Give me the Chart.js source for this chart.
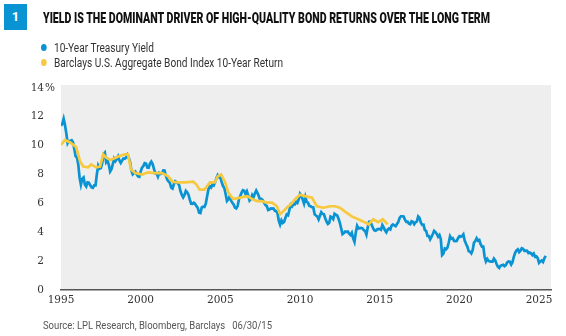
<!DOCTYPE html>
<html>
<head>
<meta charset="utf-8">
<script src="https://cdn.jsdelivr.net/npm/chart.js@4"></script>
<style>
  body { margin: 0; width: 566px; height: 336px; background: #fff; position: relative; overflow: hidden; font-family: Roboto, "DejaVu Sans", sans-serif; }
  #chart { position: absolute; left: 0; top: 0; }
  .badge { position: absolute; left: 4px; top: 4px; width: 23px; height: 26px; background: #0a93d3; color: #fff; font: bold 13px Roboto, sans-serif; text-align: center; line-height: 26px; }
  .fit { position: absolute; white-space: nowrap; transform-origin: 0 50%; }
  .title { left: 43px; top: 9px; font-weight: 900; font-size: 15px; color: #111; }
  .legend { left: 41px; font-size: 12.5px; color: #333; }
  .legend i { display: inline-block; width: 7px; height: 7px; border-radius: 50%; margin-right: 9px; vertical-align: 1px; }
  .source { left: 43px; top: 318px; font-size: 11.5px; color: #555; }
</style>
</head>
<body>
<canvas id="chart" width="566" height="336"></canvas>
<div class="badge">1</div>
<div class="fit title" data-w="447">YIELD IS THE DOMINANT DRIVER OF HIGH-QUALITY BOND RETURNS OVER THE LONG TERM</div>
<div class="fit legend" style="top:40px" data-w="113"><i style="background:#0a93d3"></i>10-Year Treasury Yield</div>
<div class="fit legend" style="top:55px" data-w="242"><i style="background:#f6c93e"></i>Barclays U.S. Aggregate Bond Index 10-Year Return</div>
<div class="fit source" data-w="229">Source: LPL Research, Bloomberg, Barclays&nbsp;&nbsp;&nbsp;06/30/15</div>
<script>
// 10-year treasury yield, monthly, plotted 10 years forward (starts at 1995)
const yieldStart = 1995;
const treasuryYield = [
  11.38, 11.51, 11.86, 11.43, 10.85, 10.16, 10.31, 10.33, 10.37, 10.24, 9.78, 9.26,
  9.19, 8.70, 7.78, 7.30, 7.71, 7.80, 7.30, 7.17, 7.45, 7.43, 7.25, 7.11,
  7.08, 7.25, 7.25, 8.02, 8.61, 8.40, 8.45, 8.76, 9.42, 9.52, 8.86, 8.99,
  8.67, 8.21, 8.37, 8.72, 9.09, 8.92, 9.06, 9.26, 8.98, 8.80, 8.96, 9.11,
  9.09, 9.17, 9.36, 9.18, 8.86, 8.28, 8.02, 8.11, 8.19, 8.01, 7.87, 7.84,
  8.21, 8.47, 8.59, 8.79, 8.76, 8.48, 8.47, 8.75, 8.89, 8.72, 8.39, 8.08,
  8.09, 7.85, 8.11, 8.04, 8.07, 8.28, 8.27, 7.90, 7.65, 7.53, 7.42, 7.09,
  7.03, 7.34, 7.54, 7.48, 7.39, 7.26, 6.84, 6.59, 6.42, 6.59, 6.87, 6.77,
  6.60, 6.26, 5.98, 5.97, 6.04, 5.96, 5.81, 5.68, 5.36, 5.33, 5.72, 5.77,
  5.75, 5.97, 6.48, 6.97, 7.18, 7.10, 7.30, 7.24, 7.46, 7.74, 7.96, 7.81,
  7.78, 7.47, 7.20, 7.06, 6.63, 6.17, 6.28, 6.49, 6.20, 6.04, 5.93, 5.71,
  5.65, 5.81, 6.27, 6.51, 6.74, 6.91, 6.87, 6.64, 6.83, 6.53, 6.20, 6.30,
  6.58, 6.42, 6.69, 6.89, 6.71, 6.49, 6.22, 6.30, 6.21, 6.03, 5.88, 5.81,
  5.54, 5.57, 5.65, 5.64, 5.65, 5.50, 5.46, 5.34, 4.81, 4.53, 4.83, 4.65,
  4.72, 5.00, 5.23, 5.18, 5.54, 5.90, 5.79, 5.94, 5.92, 6.11, 6.03, 6.28,
  6.66, 6.52, 6.26, 5.99, 6.44, 6.10, 6.05, 5.83, 5.80, 5.74, 5.72, 5.24,
  5.16, 5.10, 4.89, 5.14, 5.39, 5.28, 5.24, 4.97, 4.73, 4.57, 4.65, 5.09,
  5.04, 4.91, 5.28, 5.21, 5.16, 4.93, 4.65, 4.26, 3.87, 3.94, 4.05, 4.03,
  4.05, 3.90, 3.81, 3.96, 3.57, 3.33, 3.98, 4.45, 4.27, 4.29, 4.30, 4.27,
  4.15, 4.08, 3.83, 4.35, 4.72, 4.73, 4.50, 4.28, 4.13, 4.10, 4.19, 4.23,
  4.22, 4.17, 4.50, 4.34, 4.14, 4.00, 4.18, 4.26, 4.20, 4.46, 4.54, 4.47,
  4.42, 4.57, 4.72, 4.99, 5.11, 5.11, 5.09, 4.88, 4.72, 4.73, 4.60, 4.56,
  4.76, 4.72, 4.56, 4.69, 4.75, 5.10, 5.00, 4.67, 4.52, 4.53, 4.15, 4.10,
  3.74, 3.74, 3.51, 3.68, 3.88, 4.10, 4.01, 3.89, 3.69, 3.81, 3.53, 2.42,
  2.52, 2.87, 2.82, 2.93, 3.29, 3.72, 3.56, 3.59, 3.40, 3.39, 3.40, 3.59,
  3.73, 3.69, 3.73, 3.85, 3.42, 3.20, 3.01, 2.70, 2.65, 2.54, 2.76, 3.29,
  3.39, 3.58, 3.41, 3.46, 3.17, 3.00, 3.00, 2.30, 1.98, 2.15, 2.01, 1.98,
  1.97, 1.97, 2.17, 2.05, 1.80, 1.62, 1.53, 1.68, 1.72, 1.75, 1.65, 1.72,
  1.91, 1.98, 1.96, 1.76, 1.93, 2.30, 2.58, 2.74, 2.81, 2.62, 2.72, 2.90,
  2.86, 2.71, 2.72, 2.71, 2.56, 2.60, 2.54, 2.42, 2.53, 2.30, 2.33, 2.21,
  1.88, 1.98, 2.04, 1.94, 2.20, 2.36
];

// Barclays Agg trailing 10-year annualized return
const aggYears = [
  1995.0, 1995.25, 1995.6, 1995.95, 1996.2, 1996.4, 1996.7, 1996.9, 1997.2, 1997.45,
  1997.65, 1997.8, 1998.1, 1998.6, 1999.0, 1999.2, 1999.4, 1999.65, 2000.1, 2000.45,
  2000.9, 2001.35, 2001.7, 2002.0, 2002.35, 2002.8, 2003.3, 2003.5, 2003.7, 2004.0,
  2004.35, 2004.65, 2004.85, 2005.05, 2005.3, 2005.5, 2005.8, 2006.25, 2006.7, 2007.0,
  2007.3, 2007.6, 2007.9, 2008.25, 2008.55, 2008.75, 2008.95, 2009.25, 2009.4, 2009.7,
  2010.0, 2010.3, 2010.75, 2011.05, 2011.45, 2011.9, 2012.2, 2012.5, 2012.8, 2013.25,
  2013.65, 2013.95, 2014.3, 2014.6, 2014.9, 2015.2, 2015.5
];
const aggReturn = [
  10.05, 10.4, 10.2, 9.9, 8.9, 8.55, 8.5, 8.7, 8.5, 8.55,
  9.4, 9.2, 9.0, 9.25, 9.4, 9.4, 8.35, 8.1, 8.0, 8.15,
  8.1, 8.1, 7.9, 7.5, 7.45, 7.45, 7.5, 7.3, 6.95, 6.95,
  7.45, 7.45, 7.9, 8.0, 7.45, 6.75, 6.3, 6.4, 6.5, 6.3,
  6.15, 6.15, 6.05, 6.05, 5.8, 5.25, 5.45, 5.8, 5.9, 6.3,
  6.6, 6.5, 6.4, 5.8, 5.7, 5.8, 5.8, 5.7, 5.45, 5.1,
  4.9, 4.75, 4.55, 4.9, 4.7, 4.9, 4.55
];

const xTicks = [1995, 2000, 2005, 2010, 2015, 2020, 2025];
const yTicks = [0, 2, 4, 6, 8, 10, 12, 14];

const BLUE = '#0a93d3';
const YELLOW = '#f6c93e';

// squeeze header/legend/source text to the condensed widths of the original
document.querySelectorAll('.fit').forEach(el => {
    const w = el.getBoundingClientRect().width;
    el.style.transform = 'scaleX(' + (Number(el.dataset.w) / w) + ')';
});

const plotBackground = {
    id: 'plotBackground',
    beforeDraw(chart) {
        const { ctx, chartArea: a } = chart;
        ctx.save();
        ctx.fillStyle = '#eeeeef';
        ctx.fillRect(a.left, a.top, a.right - a.left, a.bottom - a.top);
        ctx.restore();
    },
    afterDraw(chart) {
        // hanging percent sign after the top label
        const y = chart.scales.y.getPixelForValue(14);
        const ctx = chart.ctx;
        ctx.save();
        ctx.font = '10.5px "DejaVu Serif", serif';
        ctx.fillStyle = '#333';
        ctx.textBaseline = 'middle';
        ctx.fillText('%', 45, y);
        ctx.restore();
    }
};

const serif = { family: '"DejaVu Serif", serif', size: 10.5 };

new Chart(document.getElementById('chart'), {
    type: 'line',
    data: {
        datasets: [{
            label: 'Barclays U.S. Aggregate Bond Index 10-Year Return',
            data: aggYears.map((x, i) => ({ x: x, y: aggReturn[i] })),
            borderColor: YELLOW,
            borderWidth: 2.7,
            pointRadius: 0,
            order: 0
        }, {
            label: '10-Year Treasury Yield',
            data: treasuryYield.map((v, i) => ({ x: yieldStart + i / 12, y: v })),
            borderColor: BLUE,
            borderWidth: 2.7,
            pointRadius: 0,
            order: 1
        }]
    },
    options: {
        responsive: false,
        animation: false,
        layout: { padding: { left: 0, right: 15, top: 85, bottom: 26 } },
        plugins: { legend: { display: false }, tooltip: { enabled: false } },
        scales: {
            x: {
                type: 'linear',
                min: 1995,
                max: 2025.75,
                afterBuildTicks: s => { s.ticks = xTicks.map(v => ({ value: v })); },
                afterFit: s => { s.height = 20; },
                grid: { display: false, drawTicks: false },
                border: { display: true, color: '#555', width: 1.5 },
                ticks: { color: '#333', font: serif, padding: 4, maxRotation: 0, callback: v => String(v) }
            },
            y: {
                min: 0,
                max: 14.2,
                afterBuildTicks: s => { s.ticks = yTicks.map(v => ({ value: v })); },
                afterFit: s => { s.width = 61; },
                grid: { display: false, drawTicks: false },
                border: { display: false },
                ticks: { color: '#333', font: serif, padding: 17, callback: v => String(v) }
            }
        }
    },
    plugins: [plotBackground]
});
</script>
</body>
</html>
